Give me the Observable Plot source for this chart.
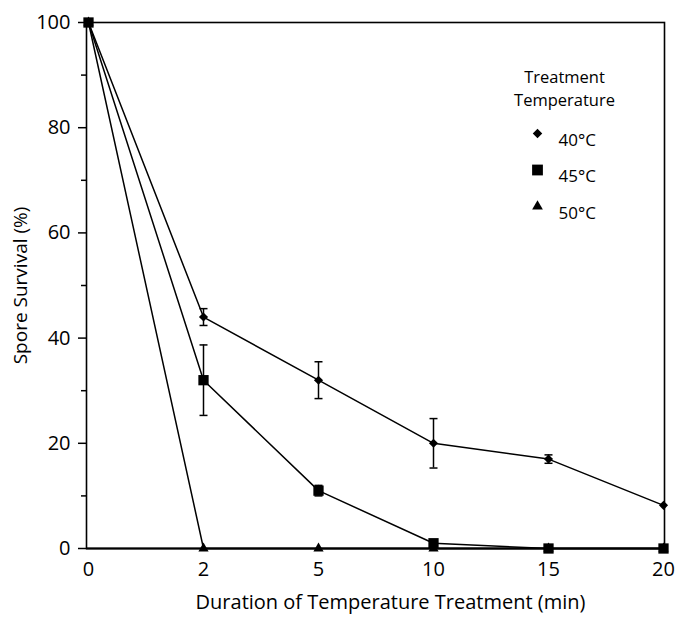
<!DOCTYPE html>
<html>
<head>
<meta charset="utf-8">
<script src="https://cdn.jsdelivr.net/npm/d3@7"></script>
<script src="https://cdn.jsdelivr.net/npm/@observablehq/plot@0.6"></script>
<style>
  html, body { margin: 0; padding: 0; background: #fff; }
  #chart svg { display: block; }
</style>
</head>
<body>
<div id="chart"></div>
<script>
const durations = [0, 2, 5, 10, 15, 20];
const temperatures = ["40°C", "45°C", "50°C"];
const survival40 = [100, 44, 32, 20, 17, 8.2];
const survival45 = [100, 32, 11, 1, 0, 0];
const survival50 = [100, 0, 0, 0, 0, 0];
const error40 = [0, 1.6, 3.5, 4.7, 0.8, 0];
const error45 = [0, 6.7, 1, 0, 0, 0];
const error50 = [0, 0, 0, 0, 0, 0];
const yTicks = [0, 20, 40, 60, 80, 100];
const yMinorTicks = [10, 30, 50, 70, 90];
const symbols = ["diamond2", "square", "triangle"];
const symbolR = [4.1, 5.8, 3.8];
const xLabel = "Duration of Temperature Treatment (min)";
const yLabel = "Spore Survival (%)";
const legendTitle = "Treatment\nTemperature";

const seriesValues = [survival40, survival45, survival50];
const seriesErrors = [error40, error45, error50];
const rows = [];
temperatures.forEach((t, i) => {
  durations.forEach((d, j) => {
    rows.push({temp: t, dur: d, value: seriesValues[i][j], err: seriesErrors[i][j], k: i});
  });
});
const errRows = rows.filter(r => r.err > 0);
const drawOrder = [0, 2, 1];
const font = "'Open Sans', sans-serif";
const capSymbol = {draw(ctx) { ctx.moveTo(-4, 0); ctx.lineTo(4, 0); }};

const marks = [
  Plot.frame({stroke: "#000", strokeWidth: 1.6}),
  Plot.ruleY([0], {stroke: "#000", strokeWidth: 2}),
  Plot.axisY({ticks: yTicks, tickSize: 8, tickPadding: 8, fontSize: 20, label: null, strokeWidth: 1.5}),
  Plot.axisY({ticks: yMinorTicks, tickSize: 5, text: null, label: null, strokeWidth: 1.5}),
  Plot.axisX({ticks: durations, tickSize: 0, tickPadding: 13, fontSize: 20, label: null}),
  Plot.text([xLabel], {frameAnchor: "bottom", dy: 60, dx: 15, fontSize: 20}),
  Plot.text([yLabel], {frameAnchor: "left", rotate: -90, dx: -66, textAnchor: "middle", fontSize: 19}),
  Plot.ruleX(errRows, {x: "dur", y1: r => r.value - r.err, y2: r => r.value + r.err, stroke: "#000", strokeWidth: 1.5}),
  Plot.dot(errRows, {x: "dur", y: r => r.value + r.err, symbol: capSymbol, stroke: "#000", strokeWidth: 1.5}),
  Plot.dot(errRows, {x: "dur", y: r => r.value - r.err, symbol: capSymbol, stroke: "#000", strokeWidth: 1.5}),
];
drawOrder.forEach(i => {
  const data = rows.filter(r => r.k === i);
  marks.push(Plot.line(data, {x: "dur", y: "value", stroke: "#000", strokeWidth: 1.5}));
});
drawOrder.forEach(i => {
  const data = rows.filter(r => r.k === i);
  marks.push(Plot.dot(data, {x: "dur", y: "value", symbol: symbols[i], r: symbolR[i], fill: "#000", stroke: "none"}));
});
// legend
marks.push(Plot.text([legendTitle], {frameAnchor: "top-right", dx: -100, dy: 44, textAnchor: "middle", fontSize: 16.5, lineHeight: 1.4}));
temperatures.forEach((t, i) => {
  marks.push(Plot.dot([t], {frameAnchor: "top-right", dx: -127, dy: 111 + i * 36.5, symbol: symbols[i], r: symbolR[i] * 1.05, fill: "#000", stroke: "none"}));
  marks.push(Plot.text([t], {frameAnchor: "top-right", dx: -106, dy: 111 + i * 36.5, textAnchor: "start", fontSize: 17}));
});

const chart = Plot.plot({
  width: 677,
  height: 623,
  marginLeft: 86,
  marginRight: 13,
  marginTop: 22,
  marginBottom: 75,
  style: {fontFamily: font, color: "#000", background: "#fff"},
  x: {type: "point", domain: durations, padding: 0, axis: null},
  y: {domain: [0, 100], axis: null},
  marks
});
document.getElementById("chart").appendChild(chart);
</script>
</body>
</html>
